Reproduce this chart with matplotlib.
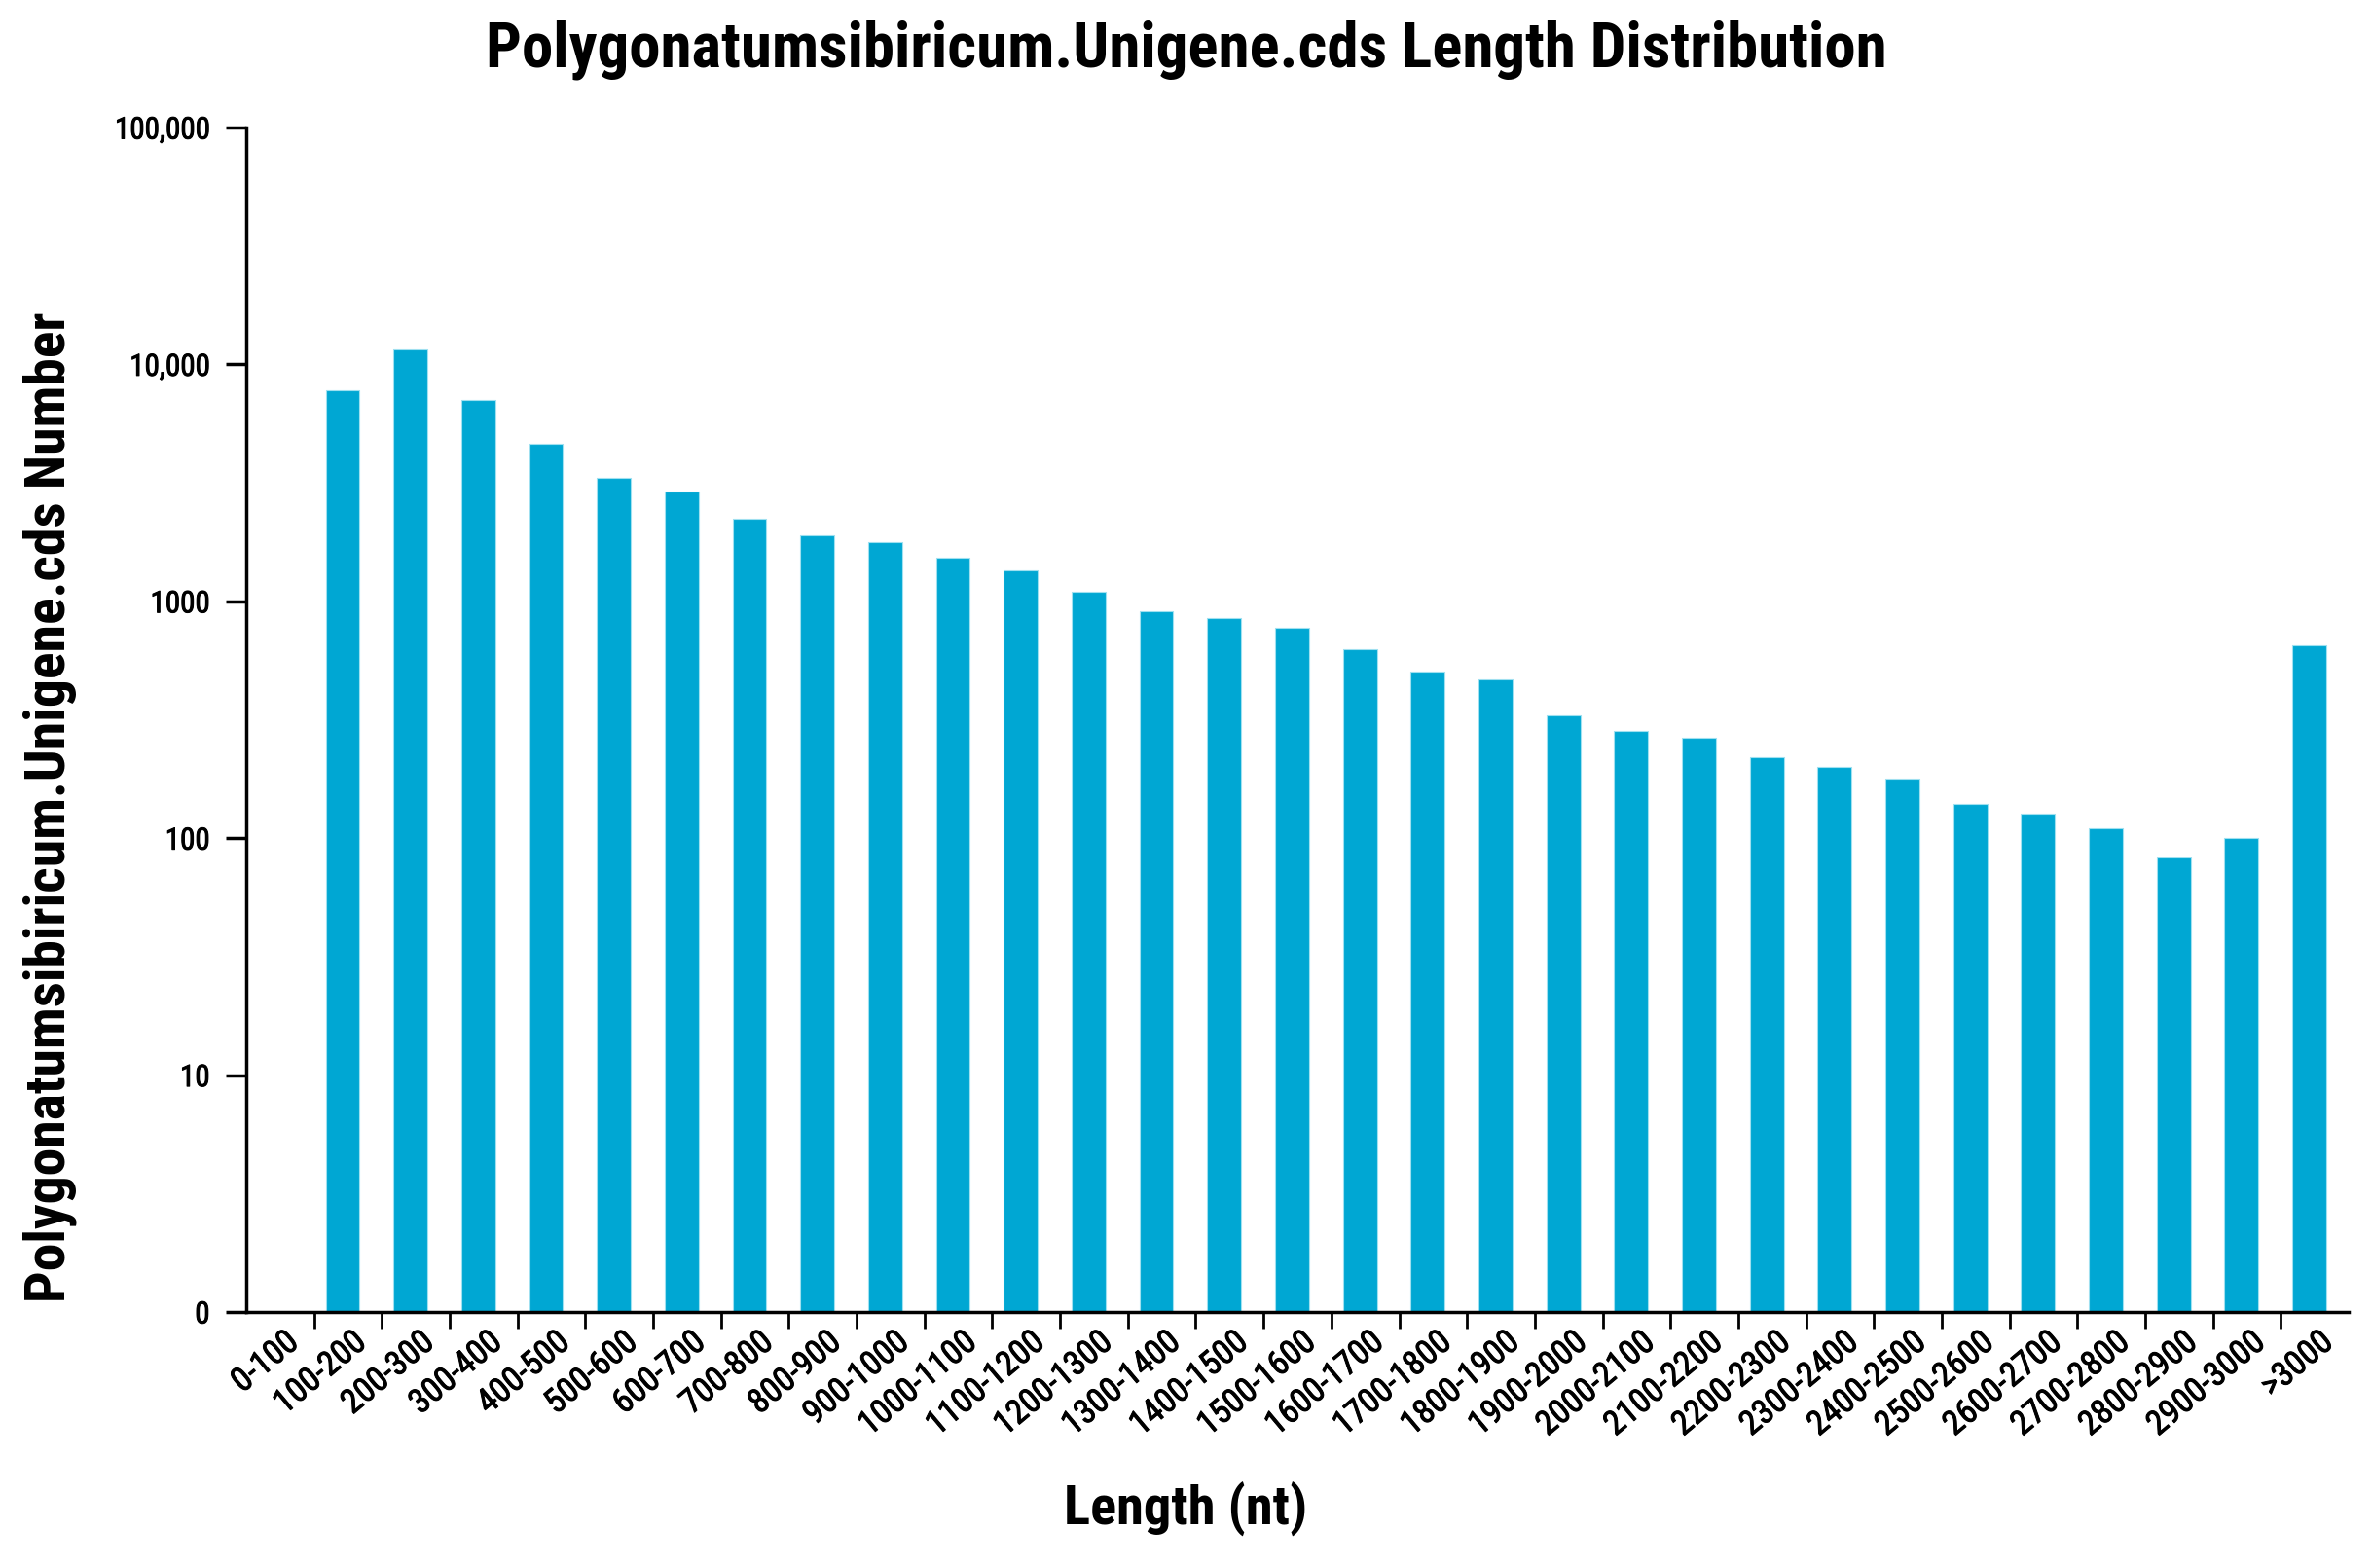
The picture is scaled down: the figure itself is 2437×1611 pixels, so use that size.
import matplotlib
matplotlib.use("Agg")
import matplotlib.pyplot as plt
import matplotlib.transforms as mtransforms
import matplotlib.patheffects as pe
import numpy as np
from matplotlib import font_manager
from matplotlib.ticker import FixedLocator, NullFormatter

# narrow sans close to Arial Narrow; prefer one that ships a bold face
prefs = ['Liberation Sans Narrow', 'Arial Narrow', 'Archivo Narrow', 'Roboto Condensed',
         'PT Sans Narrow', 'Fira Sans Condensed', 'Liberation Sans']


def weights(name):
    out = set()
    for f in font_manager.fontManager.ttflist:
        if f.name == name:
            w = f.weight
            if isinstance(w, str):
                w = 700 if 'bold' in w else 400
            out.add(w)
    return out


FONT = None
for n in prefs:
    ws = weights(n)
    if ws and max(ws) >= 600:
        FONT = n
        break
if FONT is None:
    FONT = next((n for n in prefs if weights(n)), 'Liberation Sans')
HAS_BOLD = max(weights(FONT) or {400}) >= 600
plt.rcParams['font.family'] = [FONT, 'DejaVu Sans']

categories = ['0-100', '100-200', '200-300', '300-400', '400-500', '500-600', '600-700',
              '700-800', '800-900', '900-1000', '1000-1100', '1100-1200', '1200-1300',
              '1300-1400', '1400-1500', '1500-1600', '1600-1700', '1700-1800', '1800-1900',
              '1900-2000', '2000-2100', '2100-2200', '2200-2300', '2300-2400', '2400-2500',
              '2500-2600', '2600-2700', '2700-2800', '2800-2900', '2900-3000', '>3000']
counts = [0, 7750, 11560, 7080, 4620, 3310, 2900, 2220, 1900, 1775, 1530, 1355, 1097,
          907, 853, 776, 629, 503, 467, 329, 284, 265, 220, 200, 178, 140, 127, 110,
          83, 100, 650]
ytick_vals = [1, 10, 100, 1000, 10000, 100000]
ytick_labels = ['0', '10', '100', '1000', '10,000', '100,000']

bar_color = '#00a7d3'

W, H = 2437, 1611
fig = plt.figure(figsize=(W / 100, H / 100), dpi=100)
renderer = fig.canvas.get_renderer()

BOLD = 'bold' if HAS_BOLD else 'normal'
bold_fx = [] if HAS_BOLD else [pe.withStroke(linewidth=1.6, foreground='black')]
tick_fx = [pe.withStroke(linewidth=0.7, foreground='black')]


def fit_size(text, target_px, weight='normal'):
    # font size (pt) that gives the text the wanted width in pixels
    t = fig.text(0, 0, text, fontsize=20, fontweight=weight)
    w = t.get_window_extent(renderer).width
    t.remove()
    return 20 * target_px / w


title_fs = fit_size('Polygonatumsibiricum.Unigene.cds Length Distribution', 1435, BOLD)
ylab_fs = fit_size('Polygonatumsibiricum.Unigene.cds Number', 1015, BOLD)
xlab_fs = fit_size('Length (nt)', 250, BOLD)
ytick_fs = fit_size('100,000', 98)
xtick_fs = fit_size('1000-1100', 146)

ax = fig.add_axes([253 / W, 1 - 1348 / H, (2413 - 253) / W, (1348 - 131) / H])

x = np.arange(len(categories))
vals = np.array(counts, dtype=float)
vals[vals <= 0] = np.nan
ax.bar(x - 0.08, vals, width=0.5, color=bar_color, edgecolor='#9fe0f0', linewidth=0.8)

ax.set_yscale('log')
ax.set_ylim(1, 100000)
ax.set_xlim(-0.5, len(categories) - 0.5)

ax.yaxis.set_major_locator(FixedLocator(ytick_vals))
ax.yaxis.set_minor_locator(FixedLocator([]))
ax.set_yticklabels(ytick_labels)
ax.tick_params(axis='y', which='major', length=15, width=2.5, pad=12, labelsize=ytick_fs)
for lab in ax.get_yticklabels():
    lab.set_path_effects(tick_fx)

ax.set_xticks(x)
ax.set_xticklabels(categories, rotation=40, ha='right', va='top',
                   rotation_mode='anchor', fontsize=xtick_fs)
ax.tick_params(axis='x', which='major', length=0, pad=10)
shift = mtransforms.ScaledTranslation(4 / 100, 0, fig.dpi_scale_trans)
for lab in ax.get_xticklabels():
    lab.set_transform(lab.get_transform() + shift)
    lab.set_path_effects(tick_fx)
ax.xaxis.set_minor_locator(FixedLocator(np.arange(len(categories) - 1) + 0.5))
ax.xaxis.set_minor_formatter(NullFormatter())
ax.tick_params(axis='x', which='minor', length=12, width=2.0)

for s in ['top', 'right']:
    ax.spines[s].set_visible(False)
for s in ['left', 'bottom']:
    ax.spines[s].set_linewidth(2.5)

fig.text(0.5, 1 - 51 / H, 'Polygonatumsibiricum.Unigene.cds Length Distribution',
         ha='center', va='center', fontsize=title_fs, fontweight=BOLD, path_effects=bold_fx)
fig.text(0.5, 1 - 1551 / H, 'Length (nt)', ha='center', va='center',
         fontsize=xlab_fs, fontweight=BOLD, path_effects=bold_fx)
fig.text(51 / W, 1 - 829 / H, 'Polygonatumsibiricum.Unigene.cds Number', ha='center',
         va='center', rotation=90, fontsize=ylab_fs, fontweight=BOLD, path_effects=bold_fx)

fig.savefig('out.png', dpi=100)
